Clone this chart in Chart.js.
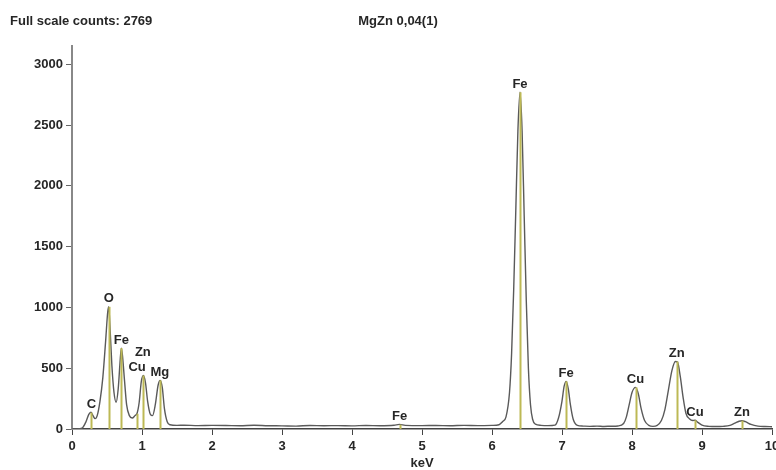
<!DOCTYPE html>
<html>
<head>
<meta charset="utf-8">
<script src="https://cdn.jsdelivr.net/npm/chart.js@4.4.1/dist/chart.umd.min.js"></script>
<style>
  html, body { margin: 0; padding: 0; background: #fff; }
</style>
</head>
<body>
<canvas id="spectrum" width="776" height="470"></canvas>
<script>
// EDS spectrum, keV vs counts
const energy = [
  0.00, 0.10, 0.15, 0.20, 0.24, 0.27, 0.30, 0.33, 0.36, 0.40, 0.44, 0.48, 0.51, 0.525, 0.54, 0.57, 0.60, 0.63,
  0.66, 0.69, 0.705, 0.72, 0.75, 0.78, 0.82, 0.86, 0.90, 0.93, 0.96, 0.99, 1.02, 1.05, 1.08, 1.12, 1.15,
  1.19, 1.23, 1.26, 1.29, 1.32, 1.36, 1.40, 1.50, 1.60, 1.80, 2.00, 2.20, 2.40, 2.60, 2.80, 3.00, 3.20,
  3.40, 3.60, 3.80, 4.00, 4.20, 4.40, 4.60, 4.68, 4.76, 5.00, 5.20, 5.40, 5.60, 5.80, 6.00, 6.10, 6.15,
  6.20, 6.25, 6.28, 6.31, 6.34, 6.37, 6.40, 6.43, 6.46, 6.49, 6.52, 6.55, 6.58, 6.62, 6.70, 6.80, 6.90,
  6.95, 7.00, 7.03, 7.06, 7.09, 7.12, 7.16, 7.22, 7.30, 7.40, 7.50, 7.60, 7.70, 7.80, 7.88, 7.92, 7.96,
  8.00, 8.05, 8.09, 8.13, 8.18, 8.24, 8.30, 8.36, 8.42, 8.47, 8.52, 8.57, 8.62, 8.65, 8.69, 8.73, 8.77,
  8.82, 8.87, 8.90, 8.94, 9.00, 9.10, 9.20, 9.30, 9.40, 9.47, 9.53, 9.57, 9.62, 9.70, 9.80, 9.90, 10.00
];
const counts = [
  0, 2, 10, 60, 120, 138, 110, 85, 110, 230, 420, 720, 960, 1005, 870, 520, 300, 220,
  330, 580, 665, 610, 400, 200, 110, 90, 110, 130, 220, 390, 440, 380, 230, 120, 110,
  200, 360, 400, 340, 170, 60, 35, 30, 31, 28, 30, 29, 27, 31, 27, 26, 24,
  29, 27, 28, 26, 29, 27, 31, 38, 30, 28, 29, 27, 30, 28, 30, 35, 60,
  100, 300, 620, 1150, 1800, 2450, 2769, 2450, 1750, 1050, 500, 200, 80, 40, 30, 28, 32,
  90, 230, 350, 392, 330, 200, 80, 30, 24, 22, 24, 21, 23, 25, 45, 100, 200,
  300, 342, 290, 170, 70, 30, 22, 30, 70, 160, 320, 480, 555, 550, 430, 260, 130,
  85, 70, 72, 55, 32, 22, 20, 22, 30, 48, 64, 68, 60, 38, 24, 20, 19
];

// identified lines
const lineNames  = ['C', 'O', 'Fe', 'Cu', 'Zn', 'Mg', 'Fe', 'Fe', 'Fe', 'Cu', 'Zn', 'Cu', 'Zn'];
const lineEnergy = [0.277, 0.525, 0.705, 0.93, 1.012, 1.254, 4.68, 6.40, 7.06, 8.05, 8.64, 8.90, 9.57];
const lineCounts = [135, 1005, 665, 125, 440, 400, 36, 2769, 392, 342, 555, 72, 68];

const xTicks = [0, 1, 2, 3, 4, 5, 6, 7, 8, 9, 10];
const yTicks = [0, 500, 1000, 1500, 2000, 2500, 3000];

const fullScale = 2769;
const sampleName = 'MgZn 0,04(1)';

const FONT = '"Liberation Sans", Arial, sans-serif';
const boldFont = { family: FONT, size: 13, weight: 'bold' };
const textColor = '#262626';

// extra lift (px) for labels that would sit on the curve
const labelLift = { 3: 38, 4: 15 };

const linesPlugin = {
  id: 'peakLines',
  afterDatasetsDraw(chart) {
    const { ctx, scales: { x, y } } = chart;
    ctx.save();
    ctx.strokeStyle = '#bdb955';
    ctx.lineWidth = 2;
    lineEnergy.forEach((e, i) => {
      const px = Math.round(x.getPixelForValue(e)) + 0.5;
      ctx.beginPath();
      ctx.moveTo(px, y.getPixelForValue(0));
      ctx.lineTo(px, y.getPixelForValue(lineCounts[i]));
      ctx.stroke();
    });
    ctx.font = 'bold 13px ' + FONT;
    ctx.fillStyle = textColor;
    ctx.textAlign = 'center';
    ctx.textBaseline = 'middle';
    lineNames.forEach((n, i) => {
      const px = x.getPixelForValue(lineEnergy[i]);
      const py = y.getPixelForValue(lineCounts[i]) - 8 - (labelLift[i] || 0);
      ctx.fillText(n, px, py);
    });
    ctx.restore();
  }
};

const headerPlugin = {
  id: 'header',
  afterDraw(chart) {
    const ctx = chart.ctx;
    ctx.save();
    ctx.font = 'bold 13px ' + FONT;
    ctx.fillStyle = textColor;
    ctx.textBaseline = 'middle';
    ctx.textAlign = 'left';
    ctx.fillText('Full scale counts: ' + fullScale, 10, 21);
    ctx.textAlign = 'center';
    ctx.fillText(sampleName, 398, 21);
    ctx.restore();
  }
};

new Chart(document.getElementById('spectrum'), {
  type: 'line',
  data: {
    datasets: [{
      data: energy.map((e, i) => ({ x: e, y: counts[i] })),
      borderColor: '#5a5a5a',
      borderWidth: 1.4,
      pointRadius: 0,
      fill: false,
      cubicInterpolationMode: 'monotone'
    }]
  },
  options: {
    responsive: false,
    animation: false,
    layout: { padding: { top: 46, right: 4, left: 0, bottom: 0 } },
    plugins: { legend: { display: false }, tooltip: { enabled: false } },
    scales: {
      x: {
        type: 'linear',
        min: 0,
        max: 10,
        afterBuildTicks: s => { s.ticks = xTicks.map(v => ({ value: v })); },
        afterFit: s => { s.height = 41; s.paddingLeft = 0; s.paddingRight = 0; },
        ticks: { font: boldFont, color: textColor, padding: 4, maxRotation: 0, autoSkip: false,
                 callback: v => String(v) },
        grid: { drawOnChartArea: false, tickLength: 6, color: '#444' },
        border: { color: '#444', width: 1.5 },
        title: { display: true, text: 'keV', font: boldFont, color: textColor, padding: { top: 0, bottom: -1 } }
      },
      y: {
        min: 0,
        max: 3150,
        afterBuildTicks: s => { s.ticks = yTicks.map(v => ({ value: v })); },
        afterFit: s => { s.width = 72; s.paddingTop = 0; s.paddingBottom = 0; },
        ticks: { font: boldFont, color: textColor, padding: 3, callback: v => String(v) },
        grid: { drawOnChartArea: false, tickLength: 6, color: '#666' },
        border: { color: '#888', width: 2 }
      }
    }
  },
  plugins: [linesPlugin, headerPlugin]
});
</script>
</body>
</html>
